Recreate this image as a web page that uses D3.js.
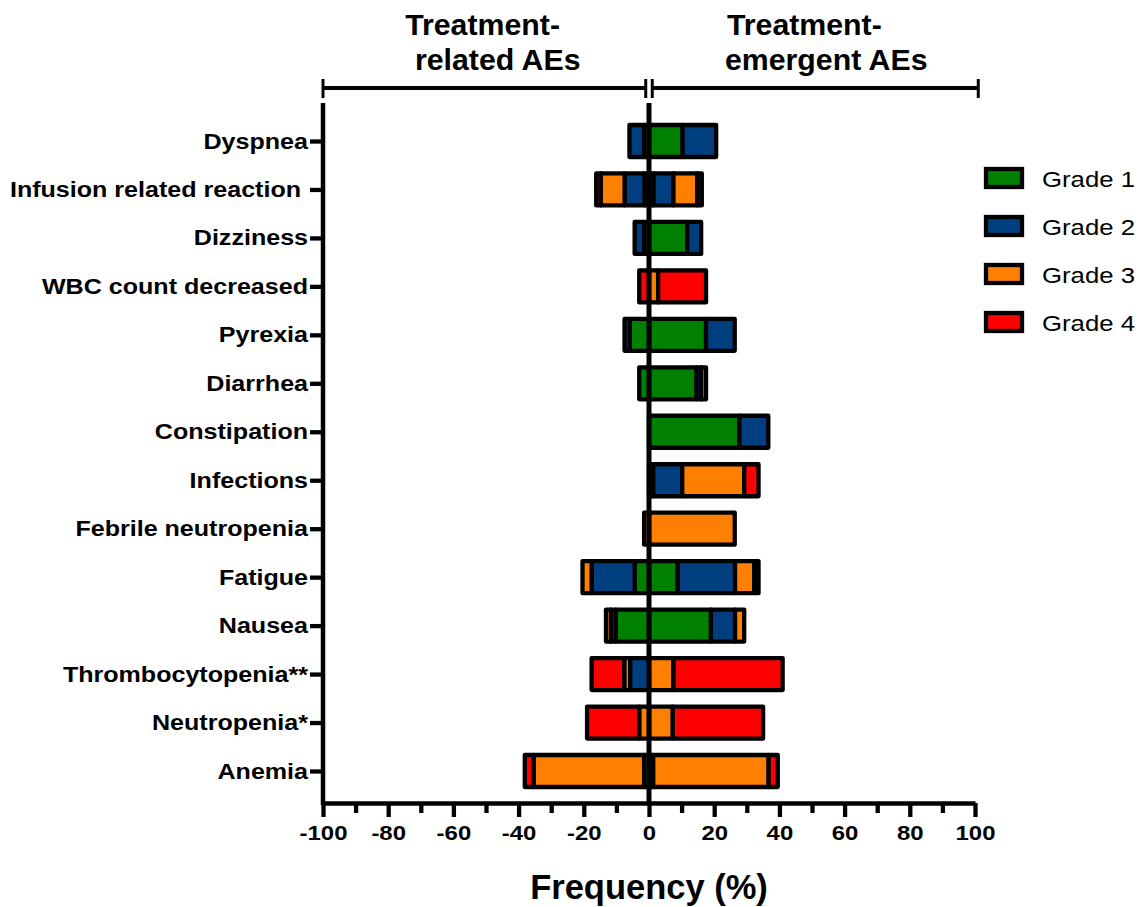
<!DOCTYPE html>
<html>
<head>
<meta charset="utf-8">
<script src="https://cdn.jsdelivr.net/npm/d3@7"></script>
<style>
  body { margin: 0; background: #fff; }
  text { font-family: "Liberation Sans", Arial, sans-serif; fill: #000; }
</style>
</head>
<body>
<div class="card"></div>
<script>
/* global d3 */

// adverse events, top to bottom
var categories = ["Dyspnea", "Infusion related reaction ", "Dizziness", "WBC count decreased",
  "Pyrexia", "Diarrhea", "Constipation", "Infections", "Febrile neutropenia", "Fatigue",
  "Nausea", "Thrombocytopenia**", "Neutropenia*", "Anemia"];

var grades = ["Grade 1", "Grade 2", "Grade 3", "Grade 4"];
var gradeColors = ["#008000", "#003F7F", "#FF8000", "#FF0000"];

// treatment-emergent AEs (right side), % of patients per grade
var emergentG1 = [10.3, 1.4, 11.7, 0, 17.5, 14.6, 27.7, 1.3, 0, 8.8, 19.0, 0, 0, 1.3];
var emergentG2 = [10.3, 6.1, 4.3, 0, 8.8, 1.4, 8.9, 8.9, 0, 17.6, 7.4, 0, 0, 0];
var emergentG3 = [0, 7.3, 0, 2.8, 0, 1.5, 0, 19.0, 26.3, 5.9, 2.8, 7.5, 7.3, 35.4];
var emergentG4 = [0, 1.4, 0, 14.7, 0, 0, 0, 4.4, 0, 1.3, 0, 33.5, 27.7, 2.8];

// treatment-related AEs (left side)
var relatedG1 = [1.5, 1.4, 1.5, 0, 5.9, 3.0, 0, 0, 0, 4.4, 10.2, 0, 0, 1.5];
var relatedG2 = [4.5, 6.1, 2.9, 0, 1.6, 0, 0, 0, 0, 13.2, 1.5, 5.8, 0, 0];
var relatedG3 = [0, 7.3, 0, 0, 0, 0, 0, 0, 1.5, 2.8, 1.5, 1.8, 3.0, 33.9];
var relatedG4 = [0, 1.4, 0, 3.0, 0, 0, 0, 0, 0, 0, 0, 10.0, 16.0, 2.7];

var xTicks = [-100, -80, -60, -40, -20, 0, 20, 40, 60, 80, 100];
var xMinorTicks = [-90, -70, -50, -30, -10, 10, 30, 50, 70, 90];

var width = 1140,
    height = 907,
    plotTop = 103,
    plotBottom = 803,
    barH = 32,
    stroke = 4.3,
    wide = 1.14;   // the source text is drawn a bit wider than normal

var svg = d3.select(".card").append("svg")
    .attr("width", width)
    .attr("height", height);

var x = d3.scaleLinear().domain([-100, 100]).range([323, 975]);
var y = d3.scalePoint().domain(categories).range([141, 771]);

var toRows = function(arrs) {
    return categories.map(function(c, i) {
        return { cat: c, v: arrs.map(function(a) { return a[i]; }) };
    });
};

var stack = d3.stack()
    .keys([0, 1, 2, 3])
    .value(function(d, k) { return d.v[k]; });

var emStack = stack(toRows([emergentG1, emergentG2, emergentG3, emergentG4]));
var reStack = stack(toRows([relatedG1, relatedG2, relatedG3, relatedG4]));

var drawSide = function(series, sign) {
    series.forEach(function(layer, k) {
        var segs = layer.filter(function(d) { return d[1] - d[0] > 0; });
        svg.append("g").selectAll("rect").data(segs).enter().append("rect")
            .attr("x", function(d) { return Math.min(x(sign * d[0]), x(sign * d[1])); })
            .attr("width", function(d) { return Math.abs(x(sign * d[1]) - x(sign * d[0])); })
            .attr("y", function(d) { return y(d.data.cat) - barH / 2; })
            .attr("height", barH)
            .attr("fill", gradeColors[k])
            .attr("stroke", "#000")
            .attr("stroke-width", stroke)
            .attr("stroke-linejoin", "round");
    });
};

drawSide(emStack, 1);
drawSide(reStack, -1);

// zero line
svg.append("line")
    .attr("x1", x(0)).attr("x2", x(0))
    .attr("y1", plotTop).attr("y2", plotBottom)
    .attr("stroke", "#000").attr("stroke-width", 5);

// y axis
var yAxis = svg.append("g")
    .attr("transform", "translate(" + x(-100) + ",0)")
    .call(d3.axisLeft(y).tickSize(13).tickPadding(2));
yAxis.select(".domain").remove();
yAxis.selectAll(".tick line").attr("stroke", "#000").attr("stroke-width", 4.3);
yAxis.selectAll(".tick text")
    .attr("fill", "#000")
    .attr("x", -15 / wide)
    .attr("transform", "scale(" + wide + ",1)")
    .style("font-size", "22px")
    .style("font-weight", "bold")
    .style("white-space", "pre");

svg.append("line")
    .attr("x1", x(-100)).attr("x2", x(-100))
    .attr("y1", plotTop).attr("y2", plotBottom + 2)
    .attr("stroke", "#000").attr("stroke-width", 4.5);

// x axis
var xAxis = svg.append("g")
    .attr("transform", "translate(0," + plotBottom + ")")
    .call(d3.axisBottom(x).tickValues(xTicks).tickSize(14).tickSizeOuter(0).tickPadding(8)
        .tickFormat(function(d) { return String(d); }));
xAxis.select(".domain").attr("stroke", "#000").attr("stroke-width", 4.5);
xAxis.selectAll(".tick line").attr("stroke", "#000").attr("stroke-width", 4.3);
xAxis.selectAll(".tick text")
    .attr("fill", "#000")
    .attr("transform", "scale(" + wide + ",1)")
    .style("font-size", "21px")
    .style("font-weight", "bold");

var xMinor = svg.append("g")
    .attr("transform", "translate(0," + plotBottom + ")")
    .call(d3.axisBottom(x).tickValues(xMinorTicks).tickSize(10).tickFormat(""));
xMinor.select(".domain").remove();
xMinor.selectAll(".tick line").attr("stroke", "#000").attr("stroke-width", 4.3);

svg.append("text")
    .attr("x", x(0)).attr("y", 899)
    .attr("text-anchor", "middle")
    .style("font-size", "34.5px").style("font-weight", "bold")
    .text("Frequency (%)");

// brackets on top
var brackets = [[-100, -1], [1, 101]];
brackets.forEach(function(b) {
    var g = svg.append("g").attr("stroke", "#000");
    g.append("line").attr("x1", x(b[0])).attr("x2", x(b[1]))
        .attr("y1", 88).attr("y2", 88).attr("stroke-width", 4);
    b.forEach(function(v) {
        g.append("line").attr("x1", x(v)).attr("x2", x(v))
            .attr("y1", 79).attr("y2", 98).attr("stroke-width", 3);
    });
});

var headers = [
    { text: "Treatment-", at: -74.8, y: 34.5 },
    { text: "related AEs", at: -71.8, y: 69.5 },
    { text: "Treatment-", at: 23.9, y: 34.5 },
    { text: "emergent AEs", at: 23.3, y: 69.5 }
];
svg.selectAll(".header").data(headers).enter().append("text")
    .attr("class", "header")
    .attr("transform", function(d) { return "translate(" + x(d.at) + "," + d.y + ") scale(1.01,1)"; })
    .style("font-size", "30px").style("font-weight", "bold")
    .text(function(d) { return d.text; });

// legend
var legend = svg.append("g").attr("transform", "translate(986,0)");
var lg = legend.selectAll("g").data(grades).enter().append("g")
    .attr("transform", function(d, i) { return "translate(0," + (178 + i * 48) + ")"; });
lg.append("rect")
    .attr("x", 0).attr("y", -9).attr("width", 36).attr("height", 18)
    .attr("fill", function(d, i) { return gradeColors[i]; })
    .attr("stroke", "#000").attr("stroke-width", stroke);
lg.append("text")
    .attr("transform", "translate(56,8.5) scale(1.12,1)")
    .style("font-size", "23px")
    .text(function(d) { return d; });
</script>
</body>
</html>
